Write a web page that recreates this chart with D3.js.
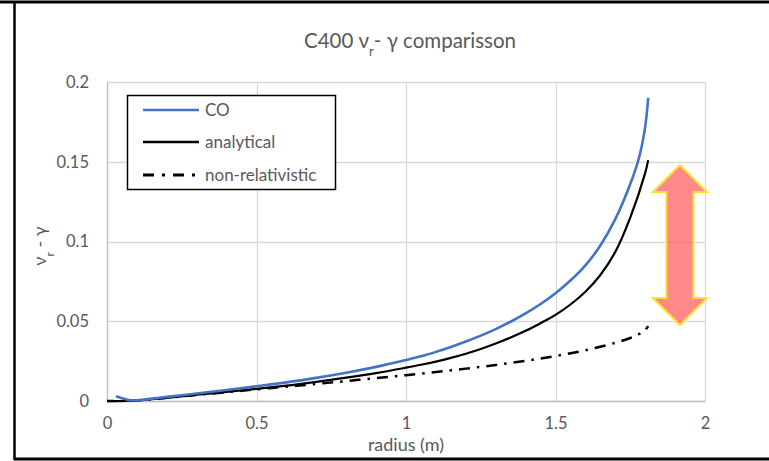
<!DOCTYPE html>
<html>
<head>
<meta charset="utf-8">
<script src="https://cdn.jsdelivr.net/npm/d3@7"></script>
<style>
  html, body { margin: 0; padding: 0; background: #fff; }
  svg { display: block; }
  text { font-family: Lato, Carlito, Calibri, "Liberation Sans", sans-serif; fill: #595959; }
</style>
</head>
<body>
<svg id="chart" width="769" height="461"></svg>
<script>
// ---- data ----
const coX = [0.03, 0.06, 0.09, 0.15, 0.2, 0.3, 0.4, 0.5, 0.6, 0.7, 0.8, 0.9, 1.0, 1.05, 1.1, 1.15, 1.2, 1.25, 1.3, 1.35, 1.4, 1.45, 1.5, 1.55, 1.6, 1.65, 1.7, 1.75, 1.78, 1.8, 1.81];
const coY = [0.003, 0.0012, 0.0003, 0.0015, 0.0026, 0.0047, 0.0069, 0.0092, 0.0117, 0.0145, 0.0177, 0.0214, 0.0257, 0.028, 0.0308, 0.0339, 0.0373, 0.041, 0.0451, 0.0497, 0.0549, 0.0608, 0.0676, 0.0755, 0.085, 0.0975, 0.114, 0.136, 0.153, 0.172, 0.19];

const anX = [0, 0.05, 0.1, 0.2, 0.3, 0.4, 0.5, 0.6, 0.7, 0.8, 0.9, 1.0, 1.05, 1.1, 1.15, 1.2, 1.25, 1.3, 1.35, 1.4, 1.45, 1.5, 1.55, 1.6, 1.65, 1.7, 1.75, 1.8, 1.81];
const anY = [0, 0, 0.0003, 0.002, 0.0039, 0.0057, 0.0076, 0.0096, 0.012, 0.0146, 0.0175, 0.0209, 0.0227, 0.0247, 0.027, 0.0296, 0.0326, 0.036, 0.0398, 0.044, 0.0488, 0.054, 0.0605, 0.0685, 0.079, 0.0935, 0.115, 0.143, 0.151];

const nrX = [0, 0.05, 0.1, 0.2, 0.3, 0.4, 0.5, 0.6, 0.7, 0.8, 0.9, 1.0, 1.1, 1.2, 1.3, 1.4, 1.5, 1.6, 1.7, 1.75, 1.78, 1.8, 1.81];
const nrY = [0, 0, 0.0003, 0.002, 0.0038, 0.0055, 0.0073, 0.009, 0.0107, 0.0125, 0.0143, 0.0162, 0.0182, 0.0203, 0.0226, 0.0252, 0.0282, 0.0318, 0.0365, 0.0395, 0.042, 0.0445, 0.047];

const xTicks = [0, 0.5, 1, 1.5, 2];
const yTicks = [0, 0.05, 0.1, 0.15, 0.2];
const xTickLabels = ["0", "0.5", "1", "1.5", "2"];
const yTickLabels = ["0", "0.05", "0.1", "0.15", "0.2"];

const seriesNames = ["CO", "analytical", "non-relativistic"];
// arrow annotation (data coords): spans between analytical end and non-relativistic end
const arrowX = 1.916;
const arrowTop = 0.148;
const arrowBottom = 0.0476;

// ---- layout ----
const svg = d3.select("#chart");
const W = 769, H = 461;
const plot = { left: 107, right: 705, top: 82, bottom: 401 };

const x = d3.scaleLinear().domain([0, 2]).range([plot.left, plot.right]);
const y = d3.scaleLinear().domain([0, 0.2]).range([plot.bottom, plot.top]);

// outer frame
svg.append("line").attr("x1", 0).attr("x2", W).attr("y1", 2).attr("y2", 2)
  .attr("stroke", "#000").attr("stroke-width", 3);
svg.append("line").attr("x1", 14).attr("x2", W).attr("y1", 459).attr("y2", 459)
  .attr("stroke", "#000").attr("stroke-width", 3);
svg.append("line").attr("x1", 14.5).attr("x2", 14.5).attr("y1", 2).attr("y2", 460)
  .attr("stroke", "#000").attr("stroke-width", 2.5);

// gridlines
const grid = svg.append("g");
grid.selectAll("line.h").data(yTicks).join("line")
  .attr("x1", plot.left).attr("x2", plot.right)
  .attr("y1", d => Math.round(y(d)) + 0.5).attr("y2", d => Math.round(y(d)) + 0.5)
  .attr("stroke", "#d9d9d9").attr("stroke-width", 1.3);
grid.selectAll("line.v").data(xTicks).join("line")
  .attr("y1", plot.top).attr("y2", plot.bottom)
  .attr("x1", d => Math.round(x(d)) + 0.5).attr("x2", d => Math.round(x(d)) + 0.5)
  .attr("stroke", "#d9d9d9").attr("stroke-width", 1.3);

// axes
const xAxis = d3.axisBottom(x).tickValues(xTicks).tickFormat((d, i) => xTickLabels[i]).tickSize(0).tickPadding(16);
const gx = svg.append("g").attr("transform", `translate(0,${plot.bottom})`).call(xAxis);
gx.select(".domain").attr("stroke", "#bfbfbf").attr("stroke-width", 1.3);
gx.selectAll("text").style("font-size", "16.5px").attr("fill", "#595959");

const yAxis = d3.axisLeft(y).tickValues(yTicks).tickFormat((d, i) => yTickLabels[i]).tickSize(0).tickPadding(18);
const gy = svg.append("g").attr("transform", `translate(${plot.left},0)`).call(yAxis);
gy.select(".domain").attr("stroke", "#bfbfbf").attr("stroke-width", 1.3);
gy.selectAll("text").style("font-size", "16.5px").attr("fill", "#595959");

// lines
const line = d3.line().x(d => x(d[0])).y(d => y(d[1])).curve(d3.curveCatmullRom.alpha(0.5));
const zip = (a, b) => a.map((v, i) => [v, b[i]]);

svg.append("path").datum(zip(nrX, nrY)).attr("d", line)
  .attr("fill", "none").attr("stroke", "#000").attr("stroke-width", 2.5)
  .attr("stroke-dasharray", "11,7,2.5,7").attr("stroke-dashoffset", 4);
svg.append("path").datum(zip(anX, anY)).attr("d", line)
  .attr("fill", "none").attr("stroke", "#000").attr("stroke-width", 2.2);
svg.append("path").datum(zip(coX, coY)).attr("d", line)
  .attr("fill", "none").attr("stroke", "#4472c4").attr("stroke-width", 2.6);

// arrow annotation
const ax = x(arrowX), at = y(arrowTop), ab = y(arrowBottom);
const headH = 27, headW = 27, shaftW = 13.5;
const pts = [
  [ax, at], [ax + headW, at + headH], [ax + shaftW, at + headH],
  [ax + shaftW, ab - headH], [ax + headW, ab - headH], [ax, ab],
  [ax - headW, ab - headH], [ax - shaftW, ab - headH], [ax - shaftW, at + headH],
  [ax - headW, at + headH]
];
svg.append("polygon").attr("points", pts.map(p => p.join(",")).join(" "))
  .attr("fill", "#ff5a5a").attr("fill-opacity", 0.72)
  .attr("stroke", "#ffe030").attr("stroke-width", 2).attr("stroke-linejoin", "miter");

// legend
const lg = svg.append("g");
lg.append("rect").attr("x", 127.5).attr("y", 95.5).attr("width", 208).attr("height", 94)
  .attr("fill", "#fff").attr("stroke", "#000").attr("stroke-width", 1.5);
const legY = [110, 142, 175];
const legStyles = [
  { stroke: "#4472c4", w: 2.6, dash: null },
  { stroke: "#000", w: 2.6, dash: null },
  { stroke: "#000", w: 3, dash: "11,8,3,8" }
];
seriesNames.forEach((name, i) => {
  const l = lg.append("line").attr("x1", 143).attr("x2", 199).attr("y1", legY[i]).attr("y2", legY[i])
    .attr("stroke", legStyles[i].stroke).attr("stroke-width", legStyles[i].w);
  if (legStyles[i].dash) l.attr("stroke-dasharray", legStyles[i].dash);
  lg.append("text").attr("x", 205).attr("y", legY[i]).attr("dy", "0.35em")
    .style("font-size", "17px").text(name);
});

// title
const title = svg.append("text").attr("x", 410).attr("y", 48).attr("text-anchor", "middle")
  .style("font-size", "20.5px");
title.append("tspan").text("C400 \u03bd");
title.append("tspan").attr("baseline-shift", "sub").style("font-size", "13px").text("r");
title.append("tspan").text("- \u03b3 comparisson");

// y axis title
const yt = svg.append("text").attr("transform", `translate(46,246) rotate(-90)`)
  .attr("text-anchor", "middle").style("font-size", "18px");
yt.append("tspan").text("\u03bd");
yt.append("tspan").attr("baseline-shift", "sub").style("font-size", "12px").text("r");
yt.append("tspan").text(" - \u03b3");

// x axis title
svg.append("text").attr("x", x(1)).attr("y", 450.5).attr("text-anchor", "middle")
  .style("font-size", "18px").text("radius (m)");
</script>
</body>
</html>
